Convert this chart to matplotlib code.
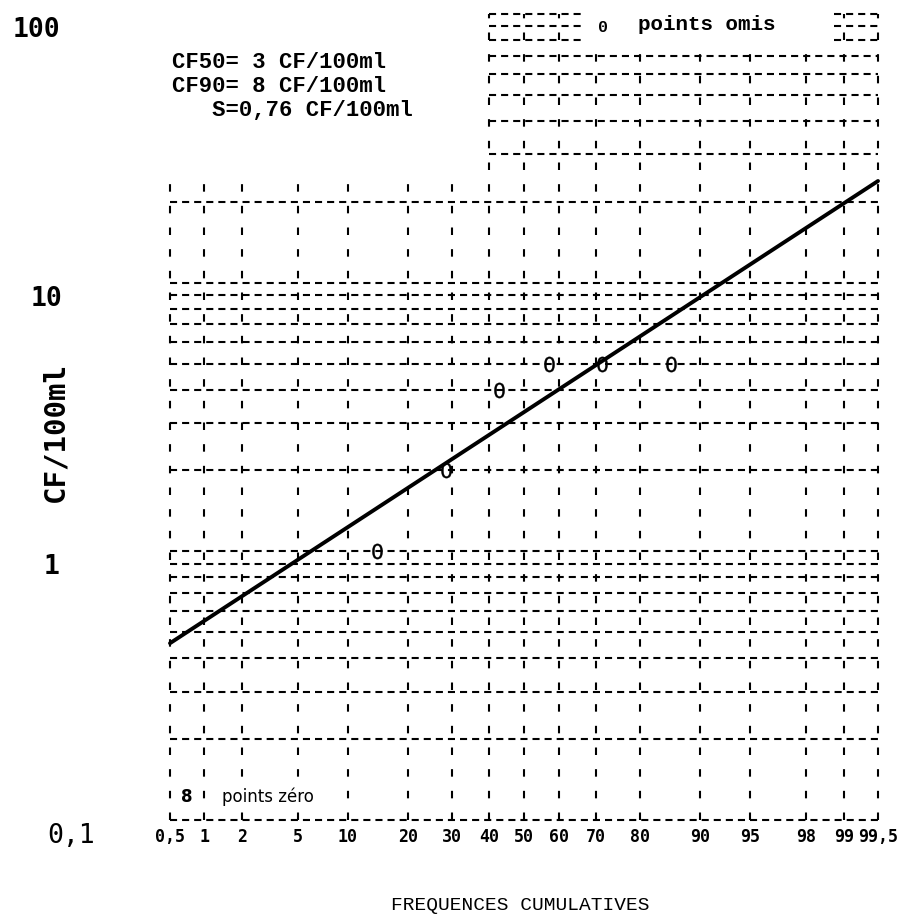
import numpy as np
import matplotlib
matplotlib.use("Agg")
import matplotlib.pyplot as plt
from matplotlib.ticker import NullLocator
from matplotlib.transforms import ScaledTranslation
from statistics import NormalDist

# cumulative frequency (%) ticks on the probability axis
freq_ticks = [0.5, 1, 2, 5, 10, 20, 30, 40, 50, 60, 70, 80, 90, 95, 98, 99, 99.5]
freq_labels = ["0,5", "1", "2", "5", "10", "20", "30", "40", "50", "60",
               "70", "80", "90", "95", "98", "99", "99,5"]

# concentration grid (CF/100ml), log cycles 0.1 - 100
cf_grid = [0.1, 0.2, 0.3, 0.4, 0.5, 0.6, 0.7, 0.8, 0.9,
           1, 2, 3, 4, 5, 6, 7, 8, 9,
           10, 20, 30, 40, 50, 60, 70, 80, 90, 100]
cf_ticks = [100, 10, 1, 0.1]
cf_tick_labels = ["100", "10", "1", "0,1"]

# observed counts and their plotting positions
sample_freq = [14.3, 28.6, 42.9, 57.1, 71.4, 85.7]
sample_cf = [1, 2, 4, 5, 5, 5]

# fitted log-normal line, ends of the probability axis
line_freq = [0.5, 99.5]
line_cf = [0.455, 23.9]

stats_lines = ["CF50= 3 CF/100ml", "CF90= 8 CF/100ml", "   S=0,76 CF/100ml"]

_nd = NormalDist()


def probit(p):
    p = np.clip(np.asarray(p, dtype=float), 1e-4, 100 - 1e-4)
    return np.vectorize(lambda v: _nd.inv_cdf(v / 100.0), otypes=[float])(p)


def inv_probit(z):
    z = np.asarray(z, dtype=float)
    return np.vectorize(lambda v: _nd.cdf(v) * 100.0, otypes=[float])(z)


W, H = 917, 919
fig = plt.figure(figsize=(W / 100, H / 100), dpi=100)
ax = fig.add_axes([170 / W, (H - 820) / H, 708 / W, 806 / H])
ax.set_xscale("function", functions=(probit, inv_probit))
ax.set_yscale("log")
ax.set_xlim(0.5, 99.5)
ax.set_ylim(0.1, 100)
for s in ax.spines.values():
    s.set_visible(False)

grid_kw = dict(colors="k", linewidth=1.5, clip_on=False)
h_dash = (0, (3.4, 2.4))
v_dash = (0, (3.6, 6.8))

# vertical grid: short on the left (text block above), partly cut at top
for p in freq_ticks:
    if p < 40:
        top = 25
    elif p in (70, 80, 90, 95, 98):
        top = 75
    else:
        top = 100
    ax.vlines(p, 0.1, top, linestyles=[v_dash], **grid_kw)

# horizontal grid
for v in cf_grid:
    if v <= 20:
        ax.hlines(v, 0.5, 99.5, linestyles=[h_dash], **grid_kw)
    elif v <= 70:
        ax.hlines(v, 40, 99.5, linestyles=[h_dash], **grid_kw)
    else:
        ax.hlines(v, 40, 66.6, linestyles=[h_dash], **grid_kw)
        ax.hlines(v, 98.8, 99.5, linestyles=[h_dash], **grid_kw)

ax.plot(line_freq, line_cf, color="k", linewidth=2.8, solid_capstyle="round",
        clip_on=False, zorder=3)
ax.plot(sample_freq, sample_cf, linestyle="none", marker="$0$", markersize=11,
        color="k", markeredgewidth=0.3, zorder=4)

ax.set_xticks(freq_ticks)
ax.set_xticklabels(freq_labels, fontfamily="DejaVu Sans Mono",
                   fontweight="bold", fontsize=12)
ax.xaxis.set_minor_locator(NullLocator())
ax.yaxis.set_minor_locator(NullLocator())
ax.set_yticks([])
ax.tick_params(axis="x", length=0, pad=6)

# y labels sit a little below their grid line
label_right = [60, 62, 60, 95]
label_weight = ["bold", "bold", "bold", "normal"]
shift = ScaledTranslation(0, -16 / 100, fig.dpi_scale_trans)
for v, lab, xr, wt in zip(cf_ticks, cf_tick_labels, label_right, label_weight):
    ax.text((xr - 170) / 708, v, lab, transform=ax.get_yaxis_transform() + shift,
            ha="right", va="center", fontsize=19, fontweight=wt,
            fontfamily="DejaVu Sans Mono")

fig.text(55 / W, 1 - 432 / H, "CF/100ml", rotation=90, ha="center", va="center",
         fontsize=21, fontweight="bold", fontfamily="DejaVu Sans Mono")

for i, line in enumerate(stats_lines):
    fig.text(172 / W, 1 - (63 + 24 * i) / H, line, ha="left", va="center",
             fontsize=16, fontweight="bold", fontfamily="Liberation Mono")

fig.text(603 / W, 1 - 28 / H, "0", ha="center", va="center", fontsize=12,
         fontweight="bold", fontfamily="Liberation Mono")
fig.text(638 / W, 1 - 24 / H, "points omis", ha="left", va="center",
         fontsize=15, fontweight="bold", fontfamily="Liberation Mono")

# zero-count note written over the bottom of the grid
white = dict(facecolor="white", edgecolor="none", pad=1)
fig.text(187 / W, 1 - 797 / H, "8", ha="center", va="center", fontsize=12,
         fontweight="bold", fontfamily="DejaVu Sans", bbox=white, zorder=5)
fig.text(222 / W, 1 - 797 / H, "points zéro", ha="left", va="center",
         fontsize=12, fontfamily="DejaVu Sans", bbox=white, zorder=5)

fig.text(520 / W, 1 - 905 / H, "FREQUENCES CUMULATIVES", ha="center",
         va="center", fontsize=14, fontfamily="Liberation Mono")

fig.savefig("out.png", dpi=100, facecolor="white")
